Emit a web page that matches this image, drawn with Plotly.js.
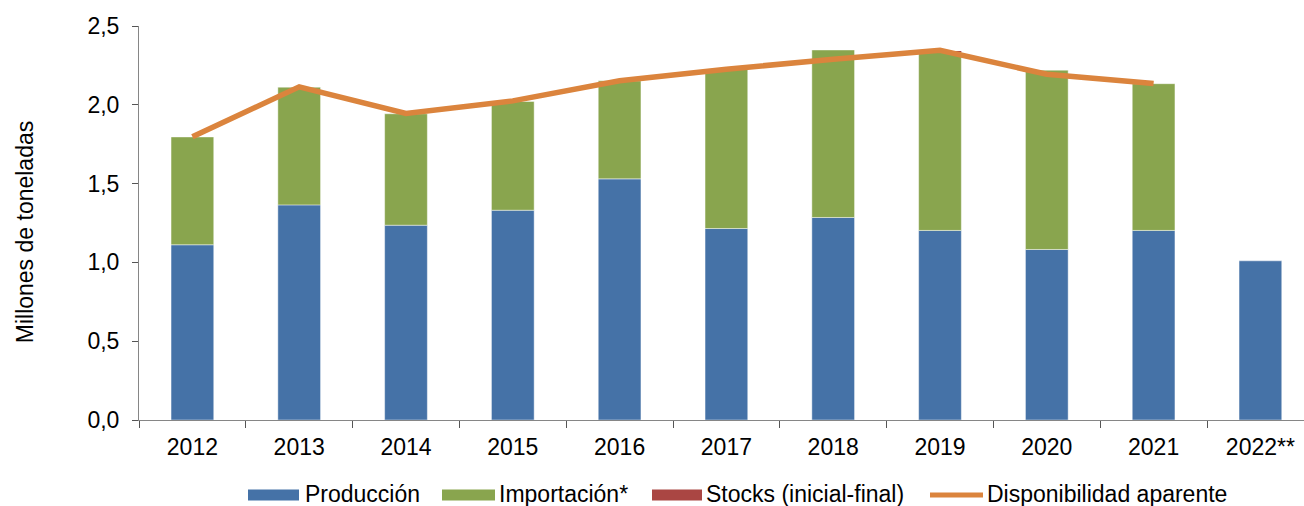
<!DOCTYPE html>
<html>
<head>
<meta charset="utf-8">
<script src="https://cdn.plot.ly/plotly-3.0.1.min.js"></script>
<style>html,body{margin:0;padding:0;background:#fff;}#chart{width:1304px;height:506px;}</style>
</head>
<body>
<div id="chart"></div>
<script>
// ---- data ----
const years = ['2012','2013','2014','2015','2016','2017','2018','2019','2020','2021','2022**'];
const produccion = [1.112, 1.365, 1.236, 1.331, 1.530, 1.215, 1.285, 1.203, 1.082, 1.203, 1.010];
const importacion = [0.684, 0.747, 0.707, 0.690, 0.622, 1.010, 1.063, 1.131, 1.138, 0.931, null];
const stocks = [0, 0, 0, 0, 0, 0, -0.009, 0.008, -0.009, 0, null];
const disponibilidad = [1.797, 2.114, 1.945, 2.025, 2.152, 2.226, 2.289, 2.346, 2.194, 2.135];
const seriesNames = ['Producción', 'Importación*', 'Stocks (inicial-final)', 'Disponibilidad aparente'];
const yTitle = 'Millones de toneladas';
const yTicks = [0, 0.5, 1.0, 1.5, 2.0, 2.5];

// ---- styles ----
const colors = ['#4572A7', '#89A54E', '#AA4643', '#DB843D'];
const FONT = 'Liberation Sans, Arial, sans-serif';
const FS = 23;
const W = 1304, H = 506;
const plotL = 139, plotR = 1304, plotT = 25.5, plotB = 420;
const catW = 106.8;
const xMax = -0.5 + (plotR - plotL) / catW;

const barLine = {color: 'rgba(255,255,255,0.45)', width: 1};
const traces = [
  {type: 'bar', x: years, y: produccion, name: seriesNames[0], marker: {color: colors[0], line: barLine}, showlegend: false, hoverinfo: 'y'},
  {type: 'bar', x: years, y: importacion, name: seriesNames[1], marker: {color: colors[1], line: barLine}, showlegend: false, hoverinfo: 'y'},
  {type: 'bar', x: years, y: stocks, name: seriesNames[2], marker: {color: colors[2], line: {width: 0}}, showlegend: false, hoverinfo: 'y'},
  {type: 'scatter', mode: 'lines', x: years.slice(0, disponibilidad.length), y: disponibilidad, name: seriesNames[3],
   line: {color: colors[3], width: 5.5}, showlegend: false, hoverinfo: 'y'}
];

// custom legend (pixel -> paper)
const px = v => (v - plotL) / (plotR - plotL);
const py = v => (plotB - v) / (plotB - plotT);
const legendItems = [
  {sx0: 248, sx1: 299, tx: 304},
  {sx0: 442, sx1: 495, tx: 498},
  {sx0: 652, sx1: 702, tx: 705},
  {sx0: 930, sx1: 983, tx: 986}
];
const legY = 494;
const shapes = [];
const annotations = [];
legendItems.forEach((it, i) => {
  if (i < 3) {
    shapes.push({type: 'rect', xref: 'paper', yref: 'paper', x0: px(it.sx0), x1: px(it.sx1), y0: py(legY + 1 - 5.5), y1: py(legY + 1 + 5.5),
      fillcolor: colors[i], line: {width: 0}});
  } else {
    shapes.push({type: 'line', xref: 'paper', yref: 'paper', x0: px(it.sx0), x1: px(it.sx1), y0: py(legY + 1), y1: py(legY + 1),
      line: {color: colors[i], width: 5}});
  }
  annotations.push({xref: 'paper', yref: 'paper', x: px(it.tx), y: py(legY), xanchor: 'left', yanchor: 'middle',
    text: seriesNames[i], showarrow: false, font: {family: FONT, size: FS, color: '#000'}, borderpad: 0});
});
// y-axis title
annotations.push({xref: 'paper', yref: 'paper', x: px(25), y: py(232), xanchor: 'center', yanchor: 'middle',
  text: yTitle, textangle: -90, showarrow: false, font: {family: FONT, size: FS, color: '#000'}, borderpad: 0});

const layout = {
  width: W, height: H,
  margin: {l: plotL, r: W - plotR, t: plotT, b: H - plotB, pad: 0},
  paper_bgcolor: '#fff', plot_bgcolor: '#fff',
  barmode: 'relative', bargap: 0.6,
  separators: ',.',
  showlegend: false,
  font: {family: FONT, size: FS, color: '#000'},
  xaxis: {
    type: 'category', range: [-0.5, xMax], fixedrange: true,
    showline: true, linecolor: '#868686', linewidth: 1,
    ticks: 'outside', tickson: 'boundaries', ticklen: 7, tickcolor: '#555', tickwidth: 1,
    showgrid: false, zeroline: false,
    tickfont: {family: FONT, size: FS, color: '#000'}, ticklabelstandoff: 6
  },
  yaxis: {
    range: [0, 2.5], tickvals: yTicks, tickformat: '.1f', fixedrange: true,
    showline: true, linecolor: '#868686', linewidth: 1,
    ticks: 'outside', ticklen: 6, tickcolor: '#555', tickwidth: 1,
    showgrid: false, zeroline: false,
    tickfont: {family: FONT, size: FS, color: '#000'}, ticklabelstandoff: 8
  },
  shapes: shapes,
  annotations: annotations
};

Plotly.newPlot('chart', traces, layout, {displayModeBar: false, staticPlot: true});
</script>
</body>
</html>
